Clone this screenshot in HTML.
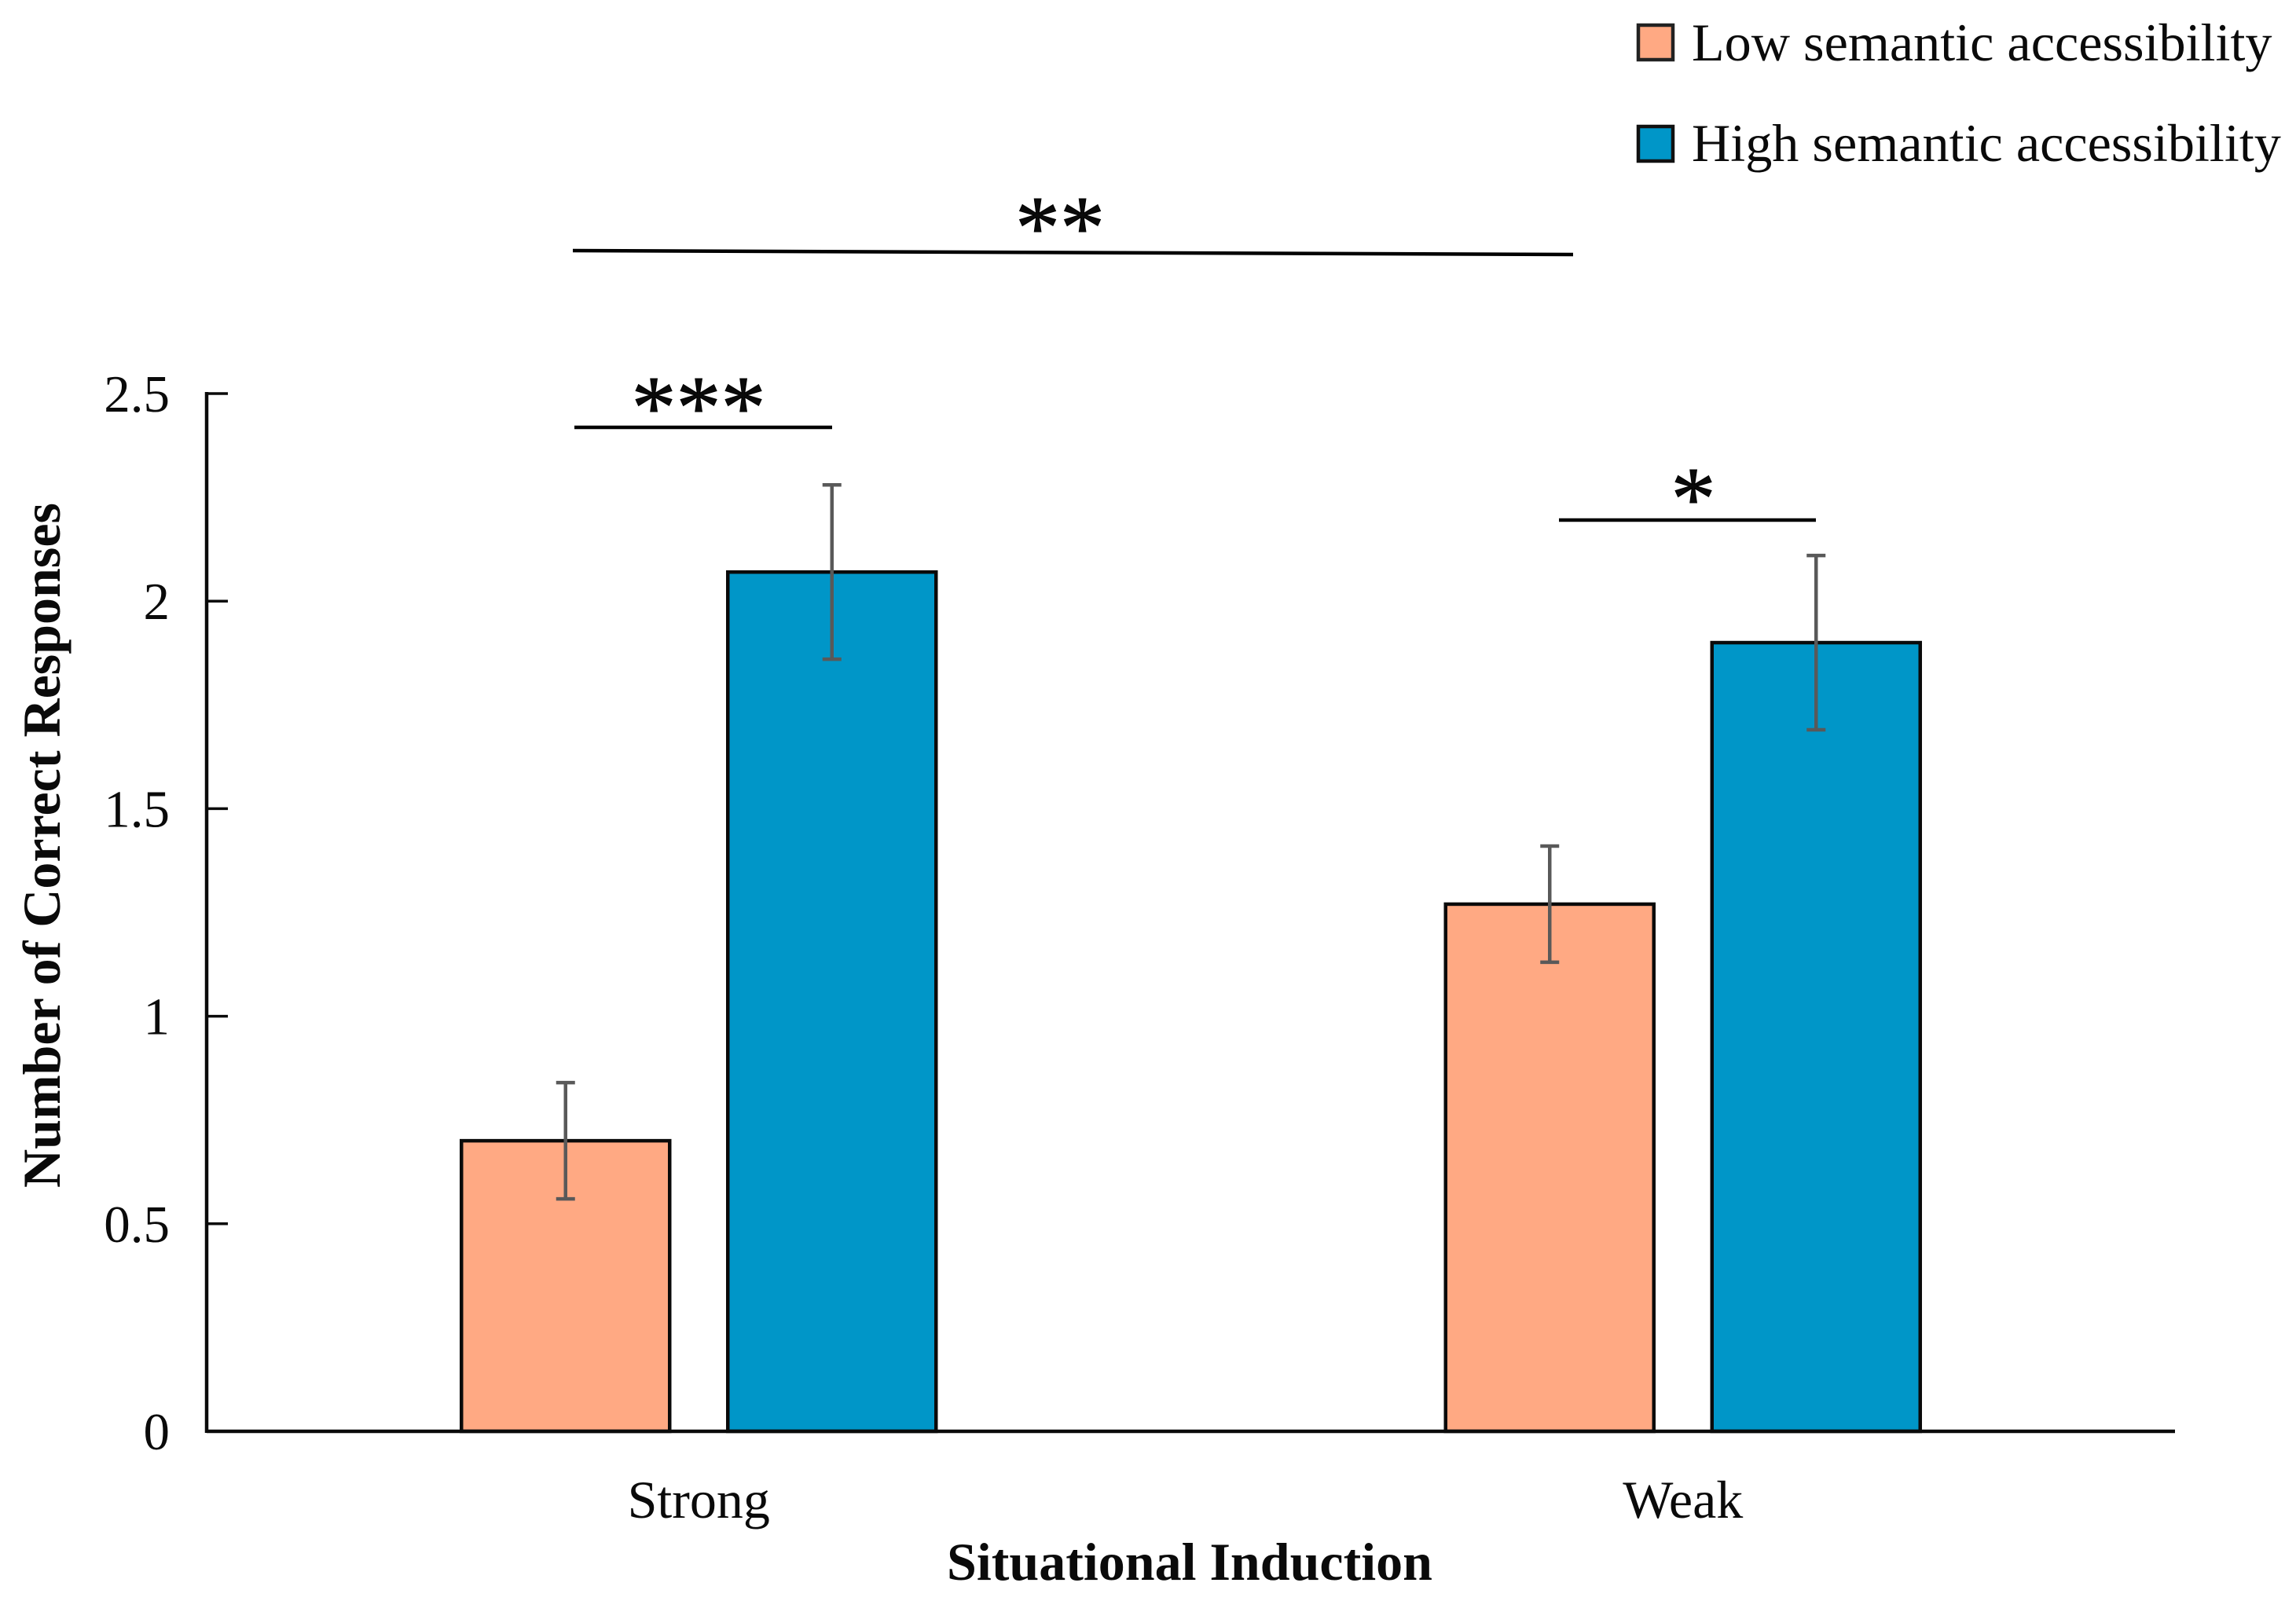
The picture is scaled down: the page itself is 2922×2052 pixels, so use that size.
<!DOCTYPE html>
<html lang="en">
<head>
<meta charset="utf-8">
<title>Number of Correct Responses by Situational Induction</title>
<style>
  html, body { margin: 0; padding: 0; background: #ffffff; }
  svg { display: block; }
  text { font-family: "Liberation Serif", "Times New Roman", serif; fill: #0a0a0a; }
  .bold { font-weight: 700; }
</style>
</head>
<body>
<svg id="chart" xmlns="http://www.w3.org/2000/svg" width="2922" height="2052" viewBox="0 0 2922 2052">
  <rect x="0" y="0" width="2922" height="2052" fill="#ffffff"/>

  <g>
    <rect x="2085" y="32" width="44" height="44" fill="#ffa983" stroke="#222" stroke-width="4.5"/>
    <text x="2153" y="77" font-size="68.2">Low semantic accessibility</text>
    <rect x="2085" y="161" width="44" height="44" fill="#0096c8" stroke="#111" stroke-width="4.5"/>
    <text x="2153" y="205" font-size="68.2">High semantic accessibility</text>
  </g>

  <g>
    <line x1="729" y1="319" x2="2002" y2="324" stroke="#000" stroke-width="4.5"/>
    <text x="1349" y="328" font-size="114" text-anchor="middle" stroke="#000" stroke-width="1">**</text>
    <line x1="731" y1="544" x2="1059" y2="544" stroke="#000" stroke-width="4.5"/>
    <text x="889" y="557" font-size="114" text-anchor="middle" stroke="#000" stroke-width="1">***</text>
    <line x1="1984" y1="662" x2="2311" y2="662" stroke="#000" stroke-width="4.5"/>
    <text x="2155" y="673" font-size="114" text-anchor="middle" stroke="#000" stroke-width="1">*</text>
  </g>

  <text class="bold" x="0" y="0" font-size="68" text-anchor="middle" transform="translate(76 1076) rotate(-90)">Number of Correct Responses</text>
  <text class="bold" x="1514" y="2011" font-size="68" text-anchor="middle">Situational Induction</text>

  <g id="bars"></g>
  <g id="axes"></g>
  <g id="errors"></g>
</svg>

<script>
const categories = ["Strong", "Weak"];
const lowValues = [0.70, 1.27];
const highValues = [2.07, 1.90];
const lowErrors = [0.14, 0.14];
const highErrors = [0.21, 0.21];
const yTicks = [0, 0.5, 1, 1.5, 2, 2.5];
const yTickLabels = ["0", "0.5", "1", "1.5", "2", "2.5"];

const NS = "http://www.w3.org/2000/svg";
const plotLeft = 263;
const plotRight = 2768;
const plotBottom = 1822;
const plotTop = 501;
const yMax = 2.5;
const barWidth = 265;
const barOffset = 169.5;

function yScale(v) {
  return plotBottom - (v / yMax) * (plotBottom - plotTop);
}
function xScale(i) {
  const band = (plotRight - plotLeft) / categories.length;
  return plotLeft + band * (i + 0.5);
}
function make(tag, attrs, parent) {
  const el = document.createElementNS(NS, tag);
  for (const k in attrs) el.setAttribute(k, attrs[k]);
  parent.appendChild(el);
  return el;
}

const barsLayer = document.getElementById("bars");
const axesLayer = document.getElementById("axes");
const errorsLayer = document.getElementById("errors");

function drawBar(cx, value, fill, name) {
  const top = yScale(value);
  const rect = make("rect", {
    x: cx - barWidth / 2,
    y: top,
    width: barWidth,
    height: plotBottom - top,
    fill: fill,
    stroke: "#0a0a0a",
    "stroke-width": 4.5
  }, barsLayer);
  
  
}

function drawError(cx, value, err, name) {
  const yHi = yScale(value + err);
  const yLo = yScale(value - err);
  const g = make("g", { stroke: "#595959", "stroke-width": 4.5, fill: "none" }, errorsLayer);
  
  
  make("line", { x1: cx, x2: cx, y1: yHi, y2: yLo }, g);
  make("line", { x1: cx - 12, x2: cx + 12, y1: yHi, y2: yHi }, g);
  make("line", { x1: cx - 12, x2: cx + 12, y1: yLo, y2: yLo }, g);
}

categories.forEach(function (cat, i) {
  const cx = xScale(i);
  const key = cat.toLowerCase();
  drawBar(cx - barOffset, lowValues[i], "#ffa983", "bar-" + key + "-low");
  drawBar(cx + barOffset, highValues[i], "#0096c8", "bar-" + key + "-high");
  drawError(cx - barOffset, lowValues[i], lowErrors[i], "error-bar-" + key + "-low");
  drawError(cx + barOffset, highValues[i], highErrors[i], "error-bar-" + key + "-high");

  const label = make("text", { x: cx, y: 1932, "font-size": 68, "text-anchor": "middle" }, axesLayer);
  label.textContent = cat;
  
  
});

const yAxisLine = make("line", { x1: plotLeft, x2: plotLeft, y1: yScale(yMax) - 2, y2: plotBottom + 2, stroke: "#0a0a0a", "stroke-width": 4.5 }, axesLayer);



const xAxisLine = make("line", { x1: plotLeft, x2: plotRight, y1: plotBottom, y2: plotBottom, stroke: "#0a0a0a", "stroke-width": 4.5 }, axesLayer);



yTicks.forEach(function (t, i) {
  const y = yScale(t);
  const tick = make("line", { x1: plotLeft, x2: plotLeft + 27, y1: y, y2: y, stroke: "#0a0a0a", "stroke-width": 3.5 }, axesLayer);
  
  

  const label = make("text", { x: 216, y: y + 23, "font-size": 67, "text-anchor": "end" }, axesLayer);
  label.textContent = yTickLabels[i];
  
  
});
</script>
</body>
</html>
